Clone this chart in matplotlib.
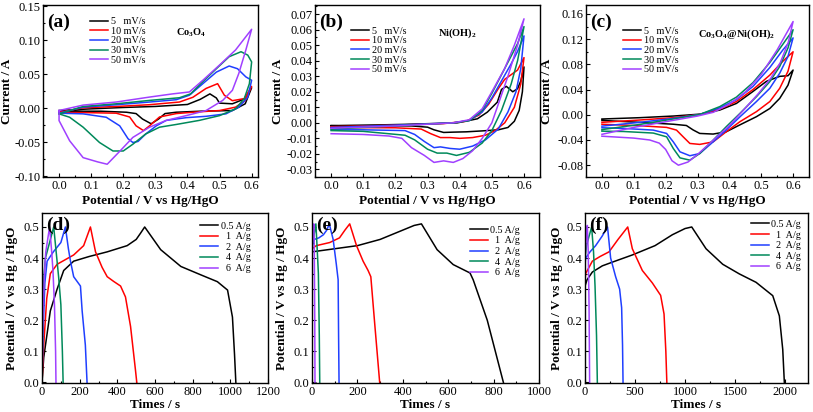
import matplotlib
matplotlib.use("Agg")
import matplotlib.pyplot as plt
from matplotlib.ticker import MultipleLocator, AutoMinorLocator, FormatStrFormatter


plt.rcParams["font.family"] = "Liberation Serif"
plt.rcParams["mathtext.fontset"] = "custom"
plt.rcParams["mathtext.rm"] = "Liberation Serif"
plt.rcParams["mathtext.bf"] = "Liberation Serif:bold"
plt.rcParams["axes.unicode_minus"] = False

COLORS = ["#000000", "#FF0000", "#1F3FFF", "#00895A", "#A040FF"]
CV_LABELS = ["5   mV/s", "10 mV/s", "20 mV/s", "30 mV/s", "50 mV/s"]
GCD_LABELS = ["0.5 A/g", "  1  A/g", "  2  A/g", "  4  A/g", "  6  A/g"]

# ---- (a) Co3O4 CV: potential (V) and current (A), one loop per scan rate ----
CO3O4_CV_V = [
    [0, .1, .2, .3, .4, .44, .47, .49, .5, .54, .58, .6,
     .58, .54, .44, .365, .33, .31, .287, .26, .24, .21, .13, 0],
    [0, .075, .18, .28, .375, .417, .458, .494, .515, .54, .577, .6,
     .58, .55, .5, .417, .365, .313, .282, .263, .24, .22, .178, .075, 0],
    [0, .075, .178, .282, .365, .406, .448, .49, .53, .556, .582, .6,
     .588, .56, .52, .458, .396, .334, .303, .27, .246, .23, .215, .189, .147, .075, 0],
    [0, .075, .178, .282, .375, .41, .448, .49, .53, .567, .588, .6,
     .593, .577, .55, .5, .437, .365, .313, .27, .23, .2, .168, .126, .075, .033, 0],
    [0, .075, .178, .282, .354, .406, .448, .5, .55, .6,
     .582, .56, .54, .51, .458, .396, .334, .282, .23, .19, .15, .12, .075, .033, 0, 0],
]
CO3O4_CV_I = [
    [-.0035, -.001, .001, .0025, .0054, .013, .021, .015, .0074, .0064, .014, .03,
     .0064, -.0035, -.0045, -.006, -.008, -.016, -.023, -.016, -.008, -.006, -.0045, -.0045],
    [-.006, .0005, .0025, .005, .009, .016, .029, .036, .019, .011, .014, .032,
     .011, .0015, -.0035, -.006, -.008, -.013, -.026, -.033, -.026, -.013, -.0074, -.0065, -.0065],
    [-.0074, .0015, .005, .009, .0124, .019, .036, .053, .062, .058, .046, .041,
     .016, .0015, -.0084, -.012, -.014, -.018, -.026, -.038, -.049, -.0505, -.045, -.026, -.0134, -.0084, -.0074],
    [-.0084, .0025, .0064, .0114, .0153, .021, .039, .058, .0757, .083, .078, .068,
     .036, .014, -.001, -.011, -.018, -.024, -.028, -.038, -.053, -.063, -.063, -.0505, -.028, -.0134, -.0084],
    [-.0035, .0045, .009, .0163, .021, .0238, .041, .0634, .0856, .116,
     .0856, .051, .0262, .0114, -.0035, -.011, -.018, -.028, -.043, -.063, -.0825, -.079, -.0728, -.048, -.0183, -.0035],
]

# ---- (b) Ni(OH)2 CV ----
NIOH_CV_V = [
    [0, .227, .393, .455, .486, .517, .53, .545, .565, .58, .59, .6,
     .595, .585, .57, .55, .52, .47, .42, .38, .35, .32, .3, .25, 0],
    [0, .2, .35, .42, .46, .49, .52, .54, .56, .58, .6,
     .59, .57, .54, .51, .48, .44, .4, .37, .34, .31, .28, .2, 0],
    [0, .2, .38, .43, .47, .5, .53, .56, .58, .6,
     .59, .575, .55, .52, .48, .44, .4, .37, .34, .32, .29, .26, .23, .1, 0],
    [0, .2, .38, .43, .47, .5, .53, .56, .58, .6,
     .58, .56, .53, .5, .47, .43, .39, .36, .33, .3, .26, .23, .1, 0],
    [0, .2, .38, .43, .47, .5, .54, .57, .6,
     .58, .55, .52, .5, .47, .44, .41, .38, .35, .32, .29, .25, .22, .18, .1, 0],
]
NIOH_CV_I = [
    [-.002, -.001, 0, .0026, .0069, .0133, .0215, .0235, .02, .022, .027, .036,
     .02, .008, .001, -.003, -.0045, -.0052, -.0058, -.006, -.0062, -.0045, -.0028, -.002, -.0017],
    [-.0025, -.0015, -.0005, .001, .005, .012, .022, .028, .031, .034, .042,
     .025, .01, 0, -.005, -.008, -.0095, -.01, -.0095, -.0095, -.007, -.004, -.0032, -.003],
    [-.003, -.0015, 0, .0015, .007, .016, .027, .038, .046, .056,
     .035, .02, .007, -.004, -.011, -.015, -.017, -.0165, -.0155, -.016, -.012, -.0075, -.005, -.0045, -.0045],
    [-.004, -.002, 0, .0015, .008, .019, .031, .043, .051, .062,
     .04, .025, .008, -.005, -.013, -.019, -.021, -.0195, -.0195, -.017, -.011, -.008, -.0055, -.005],
    [-.0035, -.002, 0, .002, .009, .02, .035, .05, .067,
     .05, .03, .012, 0, -.01, -.018, -.023, -.0255, -.0245, -.0255, -.021, -.016, -.01, -.0085, -.0075, -.007],
]

# ---- (c) Co3O4@Ni(OH)2 CV ----
CORESHELL_CV_V = [
    [0, .119, .224, .307, .37, .422, .474, .516, .558, .584, .6,
     .584, .558, .527, .485, .433, .39, .349, .307, .286, .265, .224, .119, 0],
    [0, .119, .224, .307, .37, .422, .474, .527, .568, .6,
     .584, .558, .527, .485, .433, .39, .349, .307, .276, .255, .234, .203, .119, 0],
    [0, .119, .224, .307, .37, .422, .474, .527, .568, .6,
     .584, .558, .527, .485, .433, .39, .349, .307, .276, .245, .224, .203, .161, .067, 0],
    [0, .119, .224, .307, .37, .422, .474, .527, .568, .6,
     .584, .558, .527, .485, .433, .39, .349, .307, .276, .245, .224, .203, .161, .067, 0],
    [0, .1, .2, .3, .35, .4, .45, .5, .55, .6,
     .585, .56, .53, .49, .44, .4, .35, .3, .27, .24, .22, .2, .18, .15, .1, 0],
]
CORESHELL_CV_I = [
    [-.0067, -.0046, -.002, .001, .0075, .018, .037, .053, .061, .062, .071,
     .047, .026, .01, -.003, -.016, -.027, -.0306, -.0296, -.024, -.017, -.015, -.012, -.009],
    [-.012, -.0083, -.0046, .0005, .009, .021, .04, .063, .085, .1,
     .069, .042, .021, .005, -.011, -.027, -.043, -.047, -.0455, -.035, -.0243, -.02, -.0174, -.015],
    [-.018, -.012, -.0057, .0005, .011, .024, .045, .075, .103, .122,
     .0926, .066, .042, .021, -.0033, -.0243, -.043, -.0615, -.065, -.0588, -.043, -.0296, -.0243, -.0216, -.0206],
    [-.0235, -.0153, -.0067, .0005, .013, .028, .051, .083, .112, .135,
     .106, .0766, .0527, .0288, .0021, -.019, -.0402, -.0615, -.072, -.0684, -.0535, -.035, -.029, -.0265, -.026],
    [-.031, -.02, -.011, -.002, .004, .017, .036, .064, .103, .148,
     .115, .083, .058, .033, .005, -.017, -.04, -.063, -.075, -.08, -.073, -.055, -.045, -.04, -.037, -.034],
]

# ---- (d) Co3O4 GCD: time (s) and potential (V), one per current density ----
CO3O4_GCD_T = [
    [0, 9, 44, 80, 115, 168, 250, 346, 452, 500, 523, 545,
     630, 737, 843, 931, 985, 1011, 1022, 1029],
    [0, 9, 25, 44, 80, 168, 221, 257, 284, 319, 346, 380, 417, 443, 470, 496, 503],
    [0, 5, 15, 27, 60, 100, 124, 140, 151, 168, 204, 213, 230, 239],
    [0, 4, 10, 18, 40, 62, 75, 88, 100, 108, 112],
    [0, 3, 8, 12, 20, 40, 50, 58, 66, 72, 74],
]
CO3O4_GCD_E = [
    [0, .08, .23, .30, .36, .39, .405, .42, .44, .46, .48, .50,
     .427, .373, .346, .324, .297, .21, .09, 0],
    [0, .12, .27, .35, .38, .41, .44, .5, .42, .37, .34, .325, .31, .275, .18, .04, 0],
    [0, .15, .32, .39, .42, .45, .5, .43, .39, .34, .31, .23, .12, 0],
    [0, .2, .34, .40, .45, .5, .42, .34, .25, .1, 0],
    [0, .15, .28, .34, .42, .5, .43, .36, .25, .1, 0],
]

# ---- (e) Ni(OH)2 GCD ----
NIOH_GCD_T = [
    [0, 0, 50, 100, 200, 300, 400, 450, 482, 551, 622, 696, 710, 772, 843],
    [0, 0, 19, 78, 121, 145, 166, 196, 225, 247, 259, 276, 298],
    [0, 0, 10, 30, 50, 65, 76, 93, 107, 115, 117, 119],
    [0, 0, 8, 17, 22, 28, 32, 34],
    [0, 0, 4, 8, 10, 12, 13],
]
NIOH_GCD_E = [
    [0, .42, .425, .43, .44, .46, .49, .505, .51, .427, .379, .352, .33, .2, 0],
    [0, .43, .44, .45, .465, .49, .51, .44, .39, .36, .34, .19, 0],
    [0, .44, .46, .465, .475, .49, .51, .46, .38, .33, .15, 0],
    [0, .43, .47, .51, .44, .35, .15, 0],
    [0, .44, .48, .51, .42, .2, 0],
]

# ---- (f) Co3O4@Ni(OH)2 GCD ----
CORESHELL_GCD_T = [
    [0, 0, 20, 73, 173, 300, 473, 700, 873, 1000, 1067,
     1210, 1377, 1543, 1710, 1877, 1943, 1977, 1993],
    [0, 0, 6, 73, 150, 240, 330, 427, 473, 573, 673, 756, 790, 808, 818],
    [0, 0, 6, 50, 106, 170, 225, 256, 306, 346, 366, 375, 380],
    [0, 0, 15, 40, 66, 85, 100, 115, 123],
    [0, 0, 8, 16, 23, 32, 40, 46],
]
CORESHELL_GCD_E = [
    [0, .31, .33, .355, .375, .39, .41, .44, .475, .495, .5,
     .43, .38, .349, .322, .279, .214, .106, 0],
    [0, .33, .35, .39, .405, .42, .46, .5, .43, .36, .32, .28, .22, .1, 0],
    [0, .38, .40, .42, .44, .47, .5, .40, .34, .30, .24, .12, 0],
    [0, .40, .44, .47, .5, .42, .31, .15, 0],
    [0, .40, .44, .48, .505, .42, .25, 0],
]


def style_axis(ax):
    ax.tick_params(which="both", direction="in", labelsize=9, width=0.8, pad=2)
    ax.tick_params(which="major", length=3)
    ax.tick_params(which="minor", length=1.5)
    ax.xaxis.set_minor_locator(AutoMinorLocator(2))
    ax.yaxis.set_minor_locator(AutoMinorLocator(2))
    for sp in ax.spines.values():
        sp.set_linewidth(1.0)


def plot_cv(ax, volts, amps, letter, name, ylim, ystep, xlim, legend_pos, name_pos, ylab_x):
    for v, i, c, lab in zip(volts, amps, COLORS, CV_LABELS):
        ax.plot(v, i, color=c, lw=1.1, label=lab)
    ax.set_xlim(*xlim)
    ax.set_ylim(*ylim)
    ax.xaxis.set_major_locator(MultipleLocator(0.1))
    ax.xaxis.set_major_formatter(FormatStrFormatter("%.1f"))
    ax.yaxis.set_major_locator(MultipleLocator(ystep))
    ax.yaxis.set_major_formatter(FormatStrFormatter("%.2f"))
    style_axis(ax)
    ax.set_xlabel("Potential / V vs Hg/HgO", fontsize=9.5, fontweight="bold")
    ax.set_ylabel("Current / A", fontsize=9.5, fontweight="bold")
    ax.xaxis.set_label_coords(0.5, -0.105)
    ax.yaxis.set_label_coords(ylab_x, 0.5)
    ax.text(0.02, 0.9, letter, transform=ax.transAxes, fontsize=14,
            fontweight="bold", ha="left", va="center")
    ax.text(name_pos[0], name_pos[1], name, transform=ax.transAxes, fontsize=7.5,
            fontweight="bold", ha="left", va="center")
    ax.legend(loc="upper left", bbox_to_anchor=legend_pos, frameon=False,
              fontsize=7.3, handlelength=1.8, handletextpad=0.25,
              labelspacing=0.05, borderpad=0, borderaxespad=0)


def plot_gcd(ax, times, volts, letter, xlim, xstep, legend_pos, ylab_x):
    for t, e, c, lab in zip(times, volts, COLORS, GCD_LABELS):
        ax.plot(t, e, color=c, lw=1.1, label=lab)
    ax.set_xlim(*xlim)
    ax.set_ylim(-0.002, 0.545)
    ax.xaxis.set_major_locator(MultipleLocator(xstep))
    ax.yaxis.set_major_locator(MultipleLocator(0.1))
    ax.yaxis.set_major_formatter(FormatStrFormatter("%.1f"))
    style_axis(ax)
    ax.set_xlabel("Times / s", fontsize=9.5, fontweight="bold")
    ax.set_ylabel("Potential / V vs Hg / HgO", fontsize=9.5, fontweight="bold")
    ax.xaxis.set_label_coords(0.5, -0.095)
    ax.yaxis.set_label_coords(ylab_x, 0.5)
    ax.text(0.018, 0.93, letter, transform=ax.transAxes, fontsize=14,
            fontweight="bold", ha="left", va="center")
    ax.legend(loc="upper left", bbox_to_anchor=legend_pos, frameon=False,
              fontsize=7.3, handlelength=1.8, handletextpad=0.2,
              labelspacing=0.15, borderpad=0, borderaxespad=0)


def main():
    fig = plt.figure(figsize=(8.13, 4.12), dpi=100)

    ax_a = fig.add_axes([0.0529, 0.570, 0.2645, 0.4175])
    ax_b = fig.add_axes([0.3875, 0.570, 0.2768, 0.4175])
    ax_c = fig.add_axes([0.7208, 0.570, 0.2743, 0.4175])
    ax_d = fig.add_axes([0.0517, 0.0704, 0.2780, 0.4126])
    ax_e = fig.add_axes([0.3838, 0.0704, 0.2792, 0.4126])
    ax_f = fig.add_axes([0.7196, 0.0704, 0.2743, 0.4126])

    plot_cv(ax_a, CO3O4_CV_V, CO3O4_CV_I, "(a)", r"$\mathbf{Co_3O_4}$",
            (-0.1015, 0.1515), 0.05, (-0.05, 0.62), (0.219, 0.93), (0.62, 0.84), -0.14)
    plot_cv(ax_b, NIOH_CV_V, NIOH_CV_I, "(b)", r"$\mathbf{Ni(OH)_2}$",
            (-0.035, 0.0758), 0.01, (-0.05, 0.65), (0.16, 0.875), (0.547, 0.836), -0.14)
    plot_cv(ax_c, CORESHELL_CV_V, CORESHELL_CV_I, "(c)", r"$\mathbf{Co_3O_4@Ni(OH)_2}$",
            (-0.099, 0.174), 0.04, (-0.05, 0.65), (0.166, 0.875), (0.502, 0.83), -0.15)

    plot_gcd(ax_d, CO3O4_GCD_T, CO3O4_GCD_E, "(d)", (0, 1200), 200, (0.70, 0.95), -0.106)
    plot_gcd(ax_e, NIOH_GCD_T, NIOH_GCD_E, "(e)", (0, 1000), 200, (0.696, 0.925), -0.106)
    plot_gcd(ax_f, CORESHELL_GCD_T, CORESHELL_GCD_E, "(f)", (0, 2230), 500, (0.743, 0.96), -0.099)

    fig.savefig("out.png", dpi=100)
    plt.close(fig)


if __name__ == "__main__":
    main()
